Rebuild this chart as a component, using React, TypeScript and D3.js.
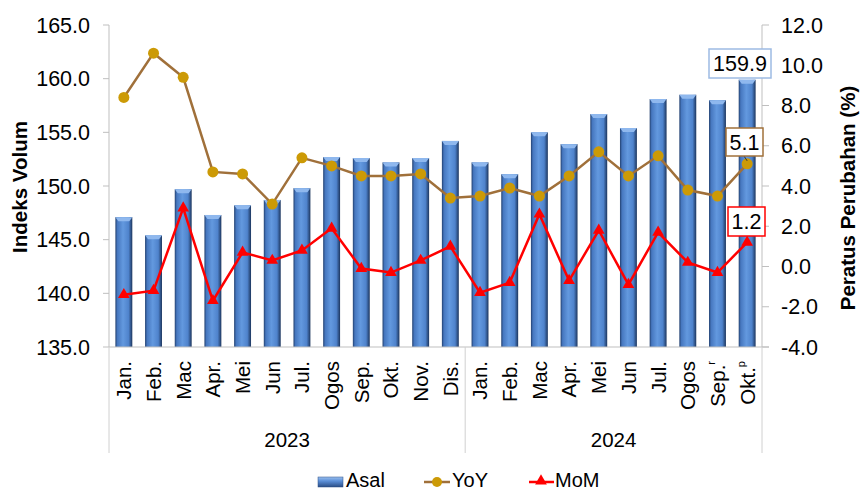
import React from "react";
import * as d3 from "d3";

const months = ["Jan.", "Feb.", "Mac", "Apr.", "Mei", "Jun", "Jul.", "Ogos", "Sep.", "Okt.", "Nov.", "Dis.",
  "Jan.", "Feb.", "Mac", "Apr.", "Mei", "Jun", "Jul.", "Ogos", "Sep.", "Okt."];
const superscripts = ["", "", "", "", "", "", "", "", "", "", "", "",
  "", "", "", "", "", "", "", "", "r", "p"];
const years = [
  { label: "2023", start: 0, end: 12 },
  { label: "2024", start: 12, end: 22 },
];
const asal = [147.1, 145.4, 149.7, 147.3, 148.2, 148.7, 149.8, 152.7, 152.6, 152.2, 152.6, 154.2,
  152.2, 151.1, 155.0, 153.9, 156.7, 155.4, 158.1, 158.5, 158.0, 159.9];
const yoy = [8.4, 10.6, 9.4, 4.7, 4.6, 3.1, 5.4, 5.0, 4.5, 4.5, 4.6, 3.4,
  3.5, 3.9, 3.5, 4.5, 5.7, 4.5, 5.5, 3.8, 3.5, 5.1];
const mom = [-1.4, -1.2, 2.9, -1.7, 0.7, 0.3, 0.8, 1.9, -0.1, -0.3, 0.3, 1.0,
  -1.3, -0.8, 2.6, -0.7, 1.8, -0.9, 1.7, 0.2, -0.3, 1.2];
const leftTicks = [135, 140, 145, 150, 155, 160, 165];
const rightTicks = [-4, -2, 0, 2, 4, 6, 8, 10, 12];

const W = 860;
const H = 491;
const FONT = "'Liberation Sans', Arial, sans-serif";
const FS = 20.5;

export default function App() {
  const x0 = 109, x1 = 762, yTop = 25, yBot = 347;
  const x = d3.scaleBand<number>().domain(d3.range(months.length)).range([x0, x1]).paddingInner(0.43).paddingOuter(0.215);
  const yL = d3.scaleLinear().domain([135, 165]).range([yBot, yTop]);
  const yR = d3.scaleLinear().domain([-4, 12]).range([yBot, yTop]);
  const cx = (i: number) => (x(i) as number) + x.bandwidth() / 2;
  const bw = x.bandwidth();

  const yoyLine = d3.line<number>().x((_, i) => cx(i)).y((d) => yR(d))(yoy) as string;
  const momLine = d3.line<number>().x((_, i) => cx(i)).y((d) => yR(d))(mom) as string;
  const tri = d3.symbol().type(d3.symbolTriangle).size(60)() as string;

  const last = months.length - 1;
  const lastCx = cx(last);

  const groupEdge = (k: number) => x0 + (x1 - x0) * (k / months.length);

  return (
    <svg width={W} height={H} style={{ position: "absolute", left: 0, top: 0, background: "#fff" }} fontFamily={FONT}>
      <defs>
        <linearGradient id="barGrad" x1="0" x2="1" y1="0" y2="0">
          <stop offset="0%" stopColor="#22406f" />
          <stop offset="12%" stopColor="#4677bf" />
          <stop offset="45%" stopColor="#6399df" />
          <stop offset="78%" stopColor="#4f83cc" />
          <stop offset="100%" stopColor="#1c355d" />
        </linearGradient>
        <linearGradient id="legGrad" x1="0" x2="0" y1="0" y2="1">
          <stop offset="0%" stopColor="#9cc0ee" />
          <stop offset="40%" stopColor="#5b8fd8" />
          <stop offset="100%" stopColor="#2a4d85" />
        </linearGradient>
      </defs>

      {/* bars */}
      {asal.map((v, i) => {
        const bx = x(i) as number;
        const by = yL(v);
        return (
          <g key={"b" + i}>
            <rect x={bx} y={by} width={bw} height={yBot - by} fill="url(#barGrad)" />
            <polygon
              points={`${bx},${by} ${bx + bw},${by} ${bx + bw - 3},${by + 4} ${bx + 3},${by + 4}`}
              fill="#8fb8ee"
            />
          </g>
        );
      })}

      {/* axes lines */}
      <line x1={x0} x2={x0} y1={yTop} y2={yBot} stroke="#bfbfbf" strokeWidth={1} />
      <line x1={x1} x2={x1} y1={yTop} y2={yBot} stroke="#bfbfbf" strokeWidth={1} />
      <line x1={x0} x2={x1 + 7} y1={yBot} y2={yBot} stroke="#bfbfbf" strokeWidth={1} />

      {leftTicks.map((t) => (
        <g key={"lt" + t}>
          <line x1={x0 - 6} x2={x0} y1={yL(t)} y2={yL(t)} stroke="#bfbfbf" />
          <text x={90} y={yL(t)} dy="0.36em" textAnchor="end" fontSize={FS + 1} fill="#000">
            {t.toFixed(1)}
          </text>
        </g>
      ))}
      {rightTicks.map((t) => (
        <g key={"rt" + t}>
          <line x1={x1} x2={x1 + 7} y1={yR(t)} y2={yR(t)} stroke="#bfbfbf" />
          <text x={781} y={yR(t)} dy="0.36em" textAnchor="start" fontSize={FS + 1} fill="#000">
            {t.toFixed(1)}
          </text>
        </g>
      ))}

      {/* category separators */}
      {[0, 12, 22].map((k) => (
        <line key={"sep" + k} x1={groupEdge(k)} x2={groupEdge(k)} y1={yBot} y2={453} stroke="#d0d0d0" />
      ))}

      {/* month labels */}
      {months.map((m, i) => (
        <text
          key={"m" + i}
          transform={`translate(${cx(i)},361) rotate(-90)`}
          dy="0.36em"
          textAnchor="end"
          fontSize={FS}
          fill="#000"
        >
          {m}
          {superscripts[i] ? (
            <tspan fontSize={11} dy="-0.9em">{superscripts[i]}</tspan>
          ) : null}
        </text>
      ))}

      {/* year labels */}
      {years.map((g) => (
        <text
          key={g.label}
          x={(groupEdge(g.start) + groupEdge(g.end)) / 2}
          y={447}
          textAnchor="middle"
          fontSize={FS}
          fill="#000"
        >
          {g.label}
        </text>
      ))}

      {/* YoY line */}
      <path d={yoyLine} fill="none" stroke="#a0703a" strokeWidth={2.5} />
      {yoy.map((v, i) => (
        <circle key={"y" + i} cx={cx(i)} cy={yR(v)} r={5.5} fill="#cc9a06" />
      ))}

      {/* MoM line */}
      <path d={momLine} fill="none" stroke="#ff0000" strokeWidth={2.5} />
      {mom.map((v, i) => (
        <path key={"mm" + i} d={tri} transform={`translate(${cx(i)},${yR(v)})`} fill="#ff0000" />
      ))}

      {/* data labels */}
      <g>
        <rect x={709} y={49} width={62} height={29} fill="#fff" stroke="#9dbbe3" strokeWidth={1.5} />
        <text x={740} y={63.5} dy="0.36em" textAnchor="middle" fontSize={FS + 1}>
          {asal[last].toFixed(1)}
        </text>
      </g>
      <g>
        <line x1={744} y1={156} x2={lastCx} y2={yR(yoy[last]) - 3} stroke="#333" strokeWidth={1} />
        <rect x={726} y={128} width={37} height={28} fill="#fff" stroke="#a0703a" strokeWidth={1.5} />
        <text x={744.5} y={142} dy="0.36em" textAnchor="middle" fontSize={FS + 1}>
          {yoy[last].toFixed(1)}
        </text>
      </g>
      <g>
        <rect x={728} y={207} width={37} height={29} fill="#fff" stroke="#ff0000" strokeWidth={1.5} />
        <text x={746.5} y={221.5} dy="0.36em" textAnchor="middle" fontSize={FS + 1}>
          {mom[last].toFixed(1)}
        </text>
      </g>

      {/* axis titles */}
      <text
        transform={`translate(20,187) rotate(-90)`}
        dy="0.36em"
        textAnchor="middle"
        fontSize={FS}
        fontWeight="bold"
      >
        Indeks Volum
      </text>
      <text
        transform={`translate(848,198) rotate(-90)`}
        dy="0.36em"
        textAnchor="middle"
        fontSize={FS}
        fontWeight="bold"
      >
        Peratus Perubahan (%)
      </text>

      {/* legend */}
      <g>
        <rect x={318} y={477} width={25} height={10} fill="url(#legGrad)" stroke="#2a4d85" strokeWidth={0.5} />
        <text x={346} y={486.5} fontSize={20}>Asal</text>
        <line x1={424} x2={450} y1={482} y2={482} stroke="#a0703a" strokeWidth={2.5} />
        <circle cx={437} cy={482} r={5} fill="#cc9a06" />
        <text x={452} y={486.5} fontSize={20}>YoY</text>
        <line x1={529} x2={554} y1={482} y2={482} stroke="#ff0000" strokeWidth={2.5} />
        <path d={tri} transform="translate(541,481)" fill="#ff0000" />
        <text x={555} y={486.5} fontSize={20}>MoM</text>
      </g>
    </svg>
  );
}
